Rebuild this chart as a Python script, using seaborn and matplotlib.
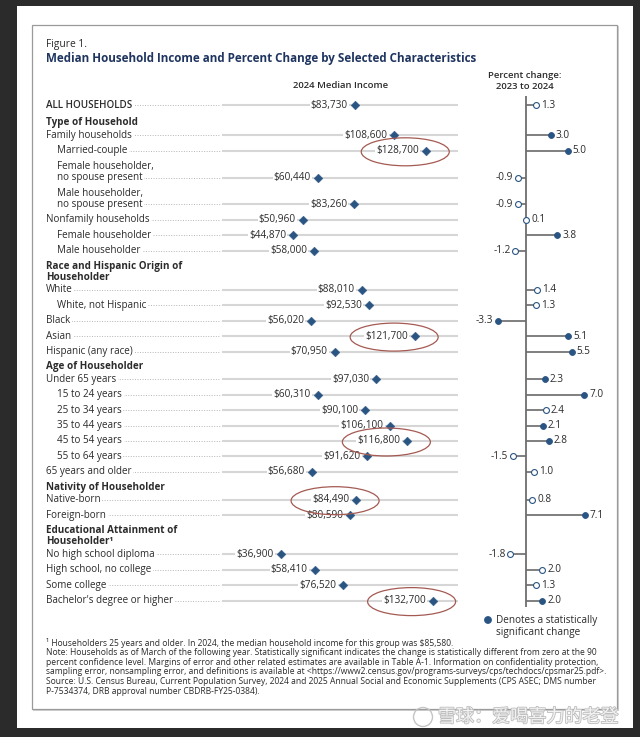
import matplotlib
matplotlib.use("Agg")
import matplotlib.pyplot as plt
import matplotlib.patheffects as pe
from matplotlib.patches import Rectangle, Ellipse, Circle
import pandas as pd
import seaborn as sns

# -----------------------------------------
# data
# -----------------------------------------
categories = [
    "ALL HOUSEHOLDS", "Family households", "Married-couple",
    "Female householder,\nno spouse present", "Male householder,\nno spouse present",
    "Nonfamily households", "Female householder", "Male householder",
    "White", "White, not Hispanic", "Black", "Asian", "Hispanic (any race)",
    "Under 65 years", "15 to 24 years", "25 to 34 years", "35 to 44 years",
    "45 to 54 years", "55 to 64 years", "65 years and older",
    "Native-born", "Foreign-born",
    "No high school diploma", "High school, no college", "Some college",
    "Bachelor's degree or higher",
]
income_2024 = [83730, 108600, 128700, 60440, 83260, 50960, 44870, 58000,
               88010, 92530, 56020, 121700, 70950,
               97030, 60310, 90100, 106100, 116800, 91620, 56680,
               84490, 80590,
               36900, 58410, 76520, 132700]
pct_change = [1.3, 3.0, 5.0, -0.9, -0.9, 0.1, 3.8, -1.2,
              1.4, 1.3, -3.3, 5.1, 5.5,
              2.3, 7.0, 2.4, 2.1, 2.8, -1.5, 1.0,
              0.8, 7.1,
              -1.8, 2.0, 1.3, 2.0]
significant = [False, True, True, False, False, False, True, False,
               False, False, True, True, True,
               True, True, False, True, True, False, False,
               False, True,
               False, False, False, True]
section_headers = {
    "Family households": "Type of Household",
    "White": "Race and Hispanic Origin of\nHouseholder",
    "Under 65 years": "Age of Householder",
    "Native-born": "Nativity of Householder",
    "No high school diploma": "Educational Attainment of\nHouseholder\u00b9",
}
subgroups = ["Married-couple", "Female householder,\nno spouse present",
             "Male householder,\nno spouse present", "Female householder",
             "Male householder", "White, not Hispanic", "15 to 24 years",
             "25 to 34 years", "35 to 44 years", "45 to 54 years", "55 to 64 years"]
circled = ["Married-couple", "Asian", "45 to 54 years", "Native-born",
           "Bachelor's degree or higher"]

footnotes = [
    "\u00b9 Householders 25 years and older. In 2024, the median household income for this group was $85,580.",
    "Note: Households as of March of the following year. Statistically significant indicates the change is statistically different from zero at the 90",
    "percent confidence level. Margins of error and other related estimates are available in Table A-1. Information on confidentiality protection,",
    "sampling error, nonsampling error, and definitions is available at <https://www2.census.gov/programs-surveys/cps/techdocs/cpsmar25.pdf>.",
    "Source: U.S. Census Bureau, Current Population Survey, 2024 and 2025 Annual Social and Economic Supplements (CPS ASEC; DMS number",
    "P-7534374, DRB approval number CBDRB-FY25-0384).",
]

# -----------------------------------------
# style
# -----------------------------------------
sns.set_theme(style="white")
plt.rcParams["font.family"] = ["Open Sans", "DejaVu Sans"]
plt.rcParams["text.parse_math"] = False

NAVY = "#2a5583"
TITLE = "#1f3560"
TXT = "#2b2b2b"
W, H = 640, 737
FS = 7.1

# row positions (pixels from top)
LINE, WRAP, HDR = 15.4, 11.4, 12.5
y_rows = []
y = 105
for i, cat in enumerate(categories):
    if i > 0:
        y += LINE + WRAP * cat.count("\n")
        if cat in section_headers:
            y += HDR + WRAP * section_headers[cat].count("\n")
            if i == 1:
                y += 2.5   # the first block sits a bit lower in the original
    y_rows.append(y)

df = pd.DataFrame({"cat": categories, "income": income_2024, "pct": pct_change,
                   "sig": significant, "y": y_rows})

fig = plt.figure(figsize=(W / 100, H / 100), dpi=100)
fig.patch.set_facecolor("#2b2b2b")

# background / labels axes in pixel units
bg = fig.add_axes([0, 0, 1, 1])
bg.set_xlim(0, W)
bg.set_ylim(H, 0)
bg.axis("off")
bg.add_patch(Rectangle((17, 6), 616, 722, facecolor="white", edgecolor="none", zorder=0))
bg.add_patch(Rectangle((33, 26), 586, 685, facecolor="#d0d0d0", edgecolor="none", zorder=0.5))
bg.add_patch(Rectangle((32, 25), 585, 684, facecolor="white", edgecolor="#9a9a9a",
                       linewidth=0.9, zorder=0.6))

bg.text(46, 44, "Figure 1.", fontsize=7.4, color=TXT, va="center")
bg.text(46, 58, "Median Household Income and Percent Change by Selected Characteristics",
        fontsize=8.4, fontweight="bold", color=TITLE, va="center")
bg.text(341, 85, "2024 Median Income", fontsize=6.8, fontweight="semibold", color=TXT,
        ha="center", va="center")
bg.text(525, 75, "Percent change:", fontsize=6.8, fontweight="semibold", color=TXT,
        ha="center", va="center")
bg.text(525, 86, "2023 to 2024", fontsize=6.8, fontweight="semibold", color=TXT,
        ha="center", va="center")

for cat, yy in zip(categories, y_rows):
    x0 = 57 if cat in subgroups else 46
    bg.plot([x0, 220], [yy, yy], color="#b5b5b5", lw=0.7, ls=(0, (1, 1.6)), zorder=1)
    lines = cat.split("\n")
    for k, ln in enumerate(lines):
        ly = yy - WRAP * (len(lines) - 1 - k)
        weight = "semibold" if cat == "ALL HOUSEHOLDS" else "normal"
        bg.text(x0, ly, ln, fontsize=FS, color=TXT, va="center", fontweight=weight,
                bbox=dict(facecolor="white", edgecolor="none", pad=1.2), zorder=3)
    if cat in section_headers:
        hl = section_headers[cat].split("\n")
        top = yy - HDR - WRAP * (len(hl) - 1)
        for k, ln in enumerate(hl):
            bg.text(46, top + WRAP * k, ln, fontsize=FS, fontweight="bold", color=TXT,
                    va="center")

# -----------------------------------------
# income panel
# -----------------------------------------
INC_MAX = 148700
ax_inc = fig.add_axes([222 / W, 0, 236 / W, 1])
ax_inc.set_xlim(0, INC_MAX)
ax_inc.set_ylim(H, 0)
ax_inc.axis("off")
ax_inc.patch.set_alpha(0)
ax_inc.hlines(df["y"], 0, INC_MAX, color="#d6d6d6", lw=1.5, zorder=1)
sns.scatterplot(data=df, x="income", y="y", marker="D", s=20, color=NAVY,
                edgecolor=NAVY, linewidth=0.3, ax=ax_inc, legend=False, zorder=4)
for _, r in df.iterrows():
    ax_inc.annotate(f"${r['income']:,}", (r["income"], r["y"]), xytext=(-5, 0),
                    textcoords="offset points", ha="right", va="center", fontsize=7.2,
                    color=TXT, zorder=3,
                    bbox=dict(facecolor="white", edgecolor="none", pad=0.8))
px = INC_MAX / 236
for _, r in df[df["cat"].isin(circled)].iterrows():
    ax_inc.add_patch(Ellipse((r["income"] - 21 * px, r["y"] + 1), 88 * px, 28,
                             fill=False, edgecolor="#a45a52", lw=0.9, zorder=5))
ax_inc.set_xlabel("")
ax_inc.set_ylabel("")

# -----------------------------------------
# percent change panel
# -----------------------------------------
ZERO, PPX = 525.5, 8.4
ax_pct = fig.add_axes([470 / W, 0, 130 / W, 1])
ax_pct.set_xlim((470 - ZERO) / PPX, (600 - ZERO) / PPX)
ax_pct.set_ylim(H, 0)
ax_pct.axis("off")
ax_pct.patch.set_alpha(0)
ax_pct.vlines(0, 96, 607, color="#555555", lw=1.1, zorder=2)
ax_pct.hlines(df["y"], 0, df["pct"], color="#6a6a6a", lw=1.2, zorder=2)
sns.scatterplot(data=df[df["sig"]], x="pct", y="y", s=18, color=NAVY,
                edgecolor=NAVY, linewidth=0.6, ax=ax_pct, legend=False, zorder=4)
sns.scatterplot(data=df[~df["sig"]], x="pct", y="y", s=18, color="white",
                edgecolor=NAVY, linewidth=0.8, ax=ax_pct, legend=False, zorder=4)
for _, r in df.iterrows():
    off = 3.5 if r["pct"] >= 0 else -3.5
    ax_pct.annotate(f"{r['pct']:.1f}", (r["pct"], r["y"]), xytext=(off, 0),
                    textcoords="offset points", ha="left" if off > 0 else "right",
                    va="center", fontsize=7.2, color=TXT)
ax_pct.set_xlabel("")
ax_pct.set_ylabel("")

# legend
bg.add_patch(Circle((488, 620), 3.2, facecolor=NAVY, edgecolor=NAVY, zorder=3))
bg.text(496, 620, "Denotes a statistically", fontsize=7.2, color=TXT, va="center")
bg.text(496, 632, "significant change", fontsize=7.2, color=TXT, va="center")

# footnotes
for k, ln in enumerate(footnotes):
    bg.text(46, 643 + 9.6 * k, ln, fontsize=6.15, color=TXT, va="center")

# watermark
wm = bg.text(438, 717, "\u96ea\u7403\uff1a\u7231\u559d\u559c\u529b\u7684\u8001\u767b",
             fontsize=13, color="#f2f2f2", va="center",
             family=["Noto Sans CJK SC", "DejaVu Sans"], zorder=6)
wm.set_path_effects([pe.withStroke(linewidth=1.2, foreground="#bdbdbd")])
bg.add_patch(Circle((423, 717), 9.5, fill=False, edgecolor="#c4c4c4", lw=1.0, zorder=6))

fig.savefig("out.png", dpi=100, facecolor=fig.get_facecolor())
